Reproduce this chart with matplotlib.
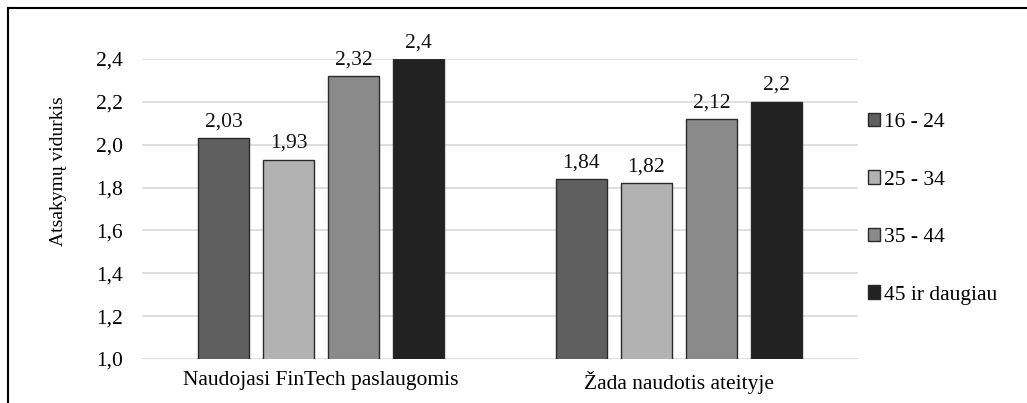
import numpy as np
import matplotlib.pyplot as plt
from matplotlib.lines import Line2D

plt.rcParams['font.family'] = ['Liberation Serif', 'DejaVu Serif']

categories = ['Naudojasi FinTech paslaugomis', 'Žada naudotis ateityje']
groups = ['16 - 24', '25 - 34', '35 - 44', '45 ir daugiau']
values = {
    '16 - 24': [2.03, 1.84],
    '25 - 34': [1.93, 1.82],
    '35 - 44': [2.32, 2.12],
    '45 ir daugiau': [2.4, 2.2],
}
colors = ['#5f5f5f', '#b2b2b2', '#8a8a8a', '#222222']
y_ticks = [1.0, 1.2, 1.4, 1.6, 1.8, 2.0, 2.2, 2.4]

fs = 15.5

fig = plt.figure(figsize=(10.27, 4.03), dpi=100)
ax = fig.add_axes([0.1383, 0.1092, 0.6971, 0.7444])

x = np.arange(len(categories))
width = 0.145
step = 0.1816

for i, g in enumerate(groups):
    pos = x + (i - 1.5) * step
    bars = ax.bar(pos, values[g], width, bottom=0, color=colors[i],
                  edgecolor='#2a2a2a', linewidth=1.0, label=g, zorder=3)
    for b, v in zip(bars, values[g]):
        ax.annotate(str(v).replace('.', ','), (b.get_x() + b.get_width() / 2, v),
                    xytext=(0, 5), textcoords='offset points', ha='center', va='bottom',
                    fontsize=fs, color='#111111', annotation_clip=False)

ax.set_ylim(1.0, 2.4)
ax.set_xlim(-0.5, 1.5)
ax.set_yticks(y_ticks)
ax.set_yticklabels([f'{t:.1f}'.replace('.', ',') for t in y_ticks], fontsize=fs)
ax.set_xticks(x)
ax.set_xticklabels(categories, fontsize=fs)
ax.tick_params(axis='y', length=0, pad=13.5)
ax.tick_params(axis='x', length=0, pad=9)
ax.grid(axis='y', color='#d9d9d9', linewidth=1.2, zorder=0)
ax.set_axisbelow(True)
for s in ax.spines.values():
    s.set_visible(False)
ax.set_ylabel('Atsakymų vidurkis', fontsize=14)
ax.yaxis.set_label_coords(-0.105, 0.627)

ax.legend(loc='upper left', bbox_to_anchor=(0.845, 0.7196), bbox_transform=fig.transFigure,
          frameon=False, fontsize=fs, handlelength=0.56, handleheight=0.56,
          handletextpad=0.2, labelspacing=1.78, borderaxespad=0, borderpad=0)

# outer frame (left and top edges visible)
fig.add_artist(Line2D([0.0078, 0.0078], [0, 0.980], color='black', linewidth=1.5,
                      transform=fig.transFigure))
fig.add_artist(Line2D([0.0078, 1.0], [0.980, 0.980], color='black', linewidth=1.5,
                      transform=fig.transFigure))

fig.savefig('out.png', dpi=100)
